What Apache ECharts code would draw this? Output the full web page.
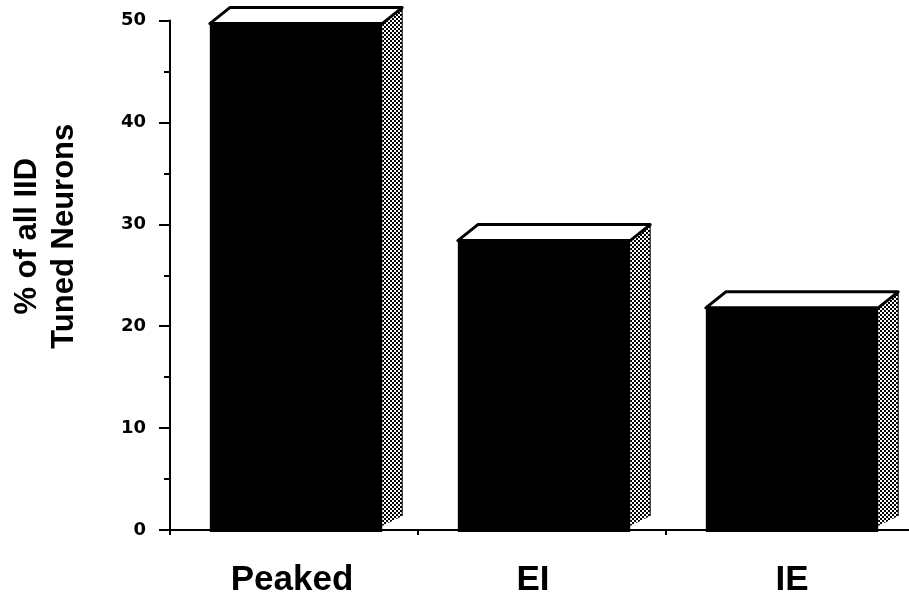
<!DOCTYPE html>
<html>
<head>
<meta charset="utf-8">
<style>html,body{margin:0;padding:0;background:#fff}#chart{width:909px;height:603px;overflow:hidden}</style>
<script src="https://cdn.jsdelivr.net/npm/echarts@6/dist/echarts.min.js"></script>
</head>
<body>
<div id="chart"></div>
<script>
const categories = ['Peaked', 'EI', 'IE'];
const percentTuned = [49.7, 28.4, 21.8];
const yTicks = [0, 10, 20, 30, 40, 50];

// Checkered fill for the side face of each block
const tile = document.createElement('canvas');
tile.width = tile.height = 4;
const t = tile.getContext('2d');
t.fillStyle = '#000';
t.fillRect(0, 0, 4, 4);
t.fillStyle = '#fff';
t.fillRect(0, 0, 2, 2);
t.fillRect(2, 2, 2, 2);

const DEPTH_X = 20, DEPTH_Y = 16, BAR_RATIO = 0.695, SHIFT_X = 2;

function renderBlock(params, api) {
  const top = api.coord([api.value(0), api.value(1)]);
  const base = api.coord([api.value(0), 0]);
  const w = api.size([1, 0])[0] * BAR_RATIO;
  const l = top[0] - w / 2 + SHIFT_X, r = l + w;
  const yt = top[1], yb = base[1] + 2;
  return {
    type: 'group',
    children: [
      { type: 'polygon',
        shape: { points: [[r, yt], [r + DEPTH_X, yt - DEPTH_Y], [r + DEPTH_X, yb - DEPTH_Y], [r, yb - 6]] },
        style: { fill: { image: tile, repeat: 'repeat' }, stroke: null } },
      { type: 'polyline',
        shape: { points: [[r + DEPTH_X, yt - DEPTH_Y], [r + DEPTH_X, yb - DEPTH_Y]] },
        style: { fill: null, stroke: '#000', lineWidth: 1 } },
      { type: 'polygon',
        shape: { points: [[l, yt], [l + DEPTH_X, yt - DEPTH_Y], [r + DEPTH_X, yt - DEPTH_Y], [r, yt]] },
        style: { fill: '#fff', stroke: '#000', lineWidth: 3, lineJoin: 'round' } },
      { type: 'rect',
        shape: { x: l, y: yt, width: w, height: yb - yt },
        style: { fill: '#000' } }
    ]
  };
}

// Small sideways nudges for the category captions
const captionPad = { Peaked: [0, 4, 0, 0], EI: [0, 18, 0, 0], IE: [0, 0, 0, 4] };
const rich = {};
categories.forEach(function (c) {
  rich[c] = { fontFamily: 'Liberation Sans', fontWeight: 'bold', fontSize: 35, color: '#000', padding: captionPad[c] };
});

const chart = echarts.init(document.getElementById('chart'), null, { renderer: 'canvas' });
chart.setOption({
  animation: false,
  backgroundColor: '#fff',
  // The horizontal axis runs past the right edge, so its last band tick falls outside the canvas
  grid: { left: 170, right: -5, top: 20.5, bottom: 73, outerBoundsMode: 'none' },
  xAxis: {
    type: 'category',
    data: categories,
    axisLine: { lineStyle: { color: '#000', width: 2 } },
    axisTick: { show: true, alignWithLabel: false, length: 5, lineStyle: { color: '#000', width: 2 } },
    axisLabel: {
      margin: 33,
      formatter: function (v) { return '{' + v + '|' + v + '}'; },
      rich: rich
    }
  },
  yAxis: {
    type: 'value',
    min: yTicks[0],
    max: yTicks[yTicks.length - 1],
    interval: 10,
    splitLine: { show: false },
    axisLine: { show: true, lineStyle: { color: '#000', width: 2 } },
    axisTick: { show: true, length: 11, lineStyle: { color: '#000', width: 2 } },
    minorTick: { show: true, splitNumber: 2, length: 6, lineStyle: { color: '#000', width: 2 } },
    axisLabel: {
      margin: 24,
      fontFamily: 'DejaVu Sans',
      fontWeight: 'bold',
      fontSize: 18,
      color: '#000',
      padding: [0, 0, 3, 0]
    },
    name: '% of all IID\nTuned Neurons',
    nameLocation: 'middle',
    nameGap: 87,
    nameRotate: 90,
    nameTextStyle: {
      fontFamily: 'Liberation Sans',
      fontWeight: 'bold',
      fontSize: 31,
      lineHeight: 37,
      color: '#000',
      padding: [0, 0, 0, 78]
    }
  },
  series: [{
    type: 'custom',
    renderItem: renderBlock,
    clip: false,
    encode: { x: 0, y: 1 },
    data: categories.map(function (c, i) { return [i, percentTuned[i]]; })
  }]
});
</script>
</body>
</html>
